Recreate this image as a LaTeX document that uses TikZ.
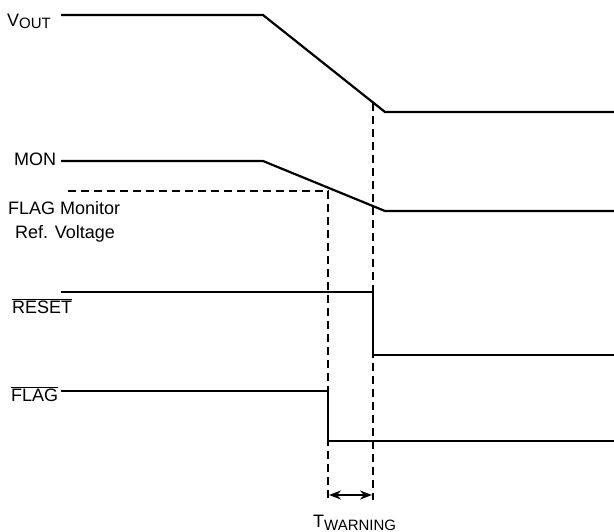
\documentclass[tikz,border=0pt]{standalone}
\usepackage{fontspec}
\setmainfont{Liberation Sans}
\usetikzlibrary{arrows.meta}
\begin{document}
\begin{tikzpicture}[x=1pt,y=-1pt,
  sig/.style={line width=2.2pt,line join=miter},
  guide/.style={line width=2.2pt,dash pattern=on 8pt off 5pt},
  lbl/.style={inner sep=0pt,font=\fontsize{18}{20}\selectfont}]
\useasboundingbox (0,0) rectangle (614,532);
% labels
\node[lbl,anchor=base west] (vout) at (7,27) {V\raisebox{-2pt}{\fontsize{15}{17}\selectfont OUT}};
\node[lbl,anchor=base west] (mon) at (14,166) {MON};
\node[lbl,anchor=base west] (flagref) at (8,215) {FLAG Monitor};
\node[lbl,anchor=base west] (refv) at (15,239) {Ref. Voltage};
\node[lbl,anchor=base west] (reset) at (12,313) {$\overline{\mbox{RESET}}$};
\node[lbl,anchor=base west] (flag) at (11,401) {$\overline{\mbox{FLAG}}$};
\node[lbl,anchor=base west] (tw) at (313,527) {T\raisebox{-3pt}{\fontsize{15}{17}\selectfont WARNING}};
% coordinates
\coordinate (va) at (61,15); \coordinate (vb) at (263,15);
\coordinate (vc) at (385,112); \coordinate (vd) at (614,112);
\coordinate (ma) at (61,161); \coordinate (mb) at (263,161);
\coordinate (mc) at (385,211); \coordinate (md) at (614,211);
\coordinate (ra) at (61,292); \coordinate (rb) at (373,292);
\coordinate (rc) at (373,355); \coordinate (rd) at (614,355);
\coordinate (fa) at (61,391); \coordinate (fb) at (328,391);
\coordinate (fc) at (328,441); \coordinate (fd) at (614,441);
\coordinate (ga) at (68,191); \coordinate (gb) at (328,191); \coordinate (gc) at (328,500);
\coordinate (ha) at (373,103); \coordinate (hc) at (373,500);
\coordinate (aa) at (329,495); \coordinate (ab) at (372,495);
% signals
\draw[sig] (va) -- (vb) -- (vc) -- (vd);
\draw[sig] (ma) -- (mb) -- (mc) -- (md);
\draw[sig] (ra) -- (rb) -- (rc) -- (rd);
\draw[sig] (fa) -- (fb) -- (fc) -- (fd);
% guides
\draw[guide] (ga) -- (gb) -- (gc);
\draw[guide] (ha) -- (hc);
\draw[line width=2.2pt,{Stealth[length=12pt,width=9pt]}-{Stealth[length=12pt,width=9pt]}] (aa) -- (ab);
\end{tikzpicture}
\end{document}
